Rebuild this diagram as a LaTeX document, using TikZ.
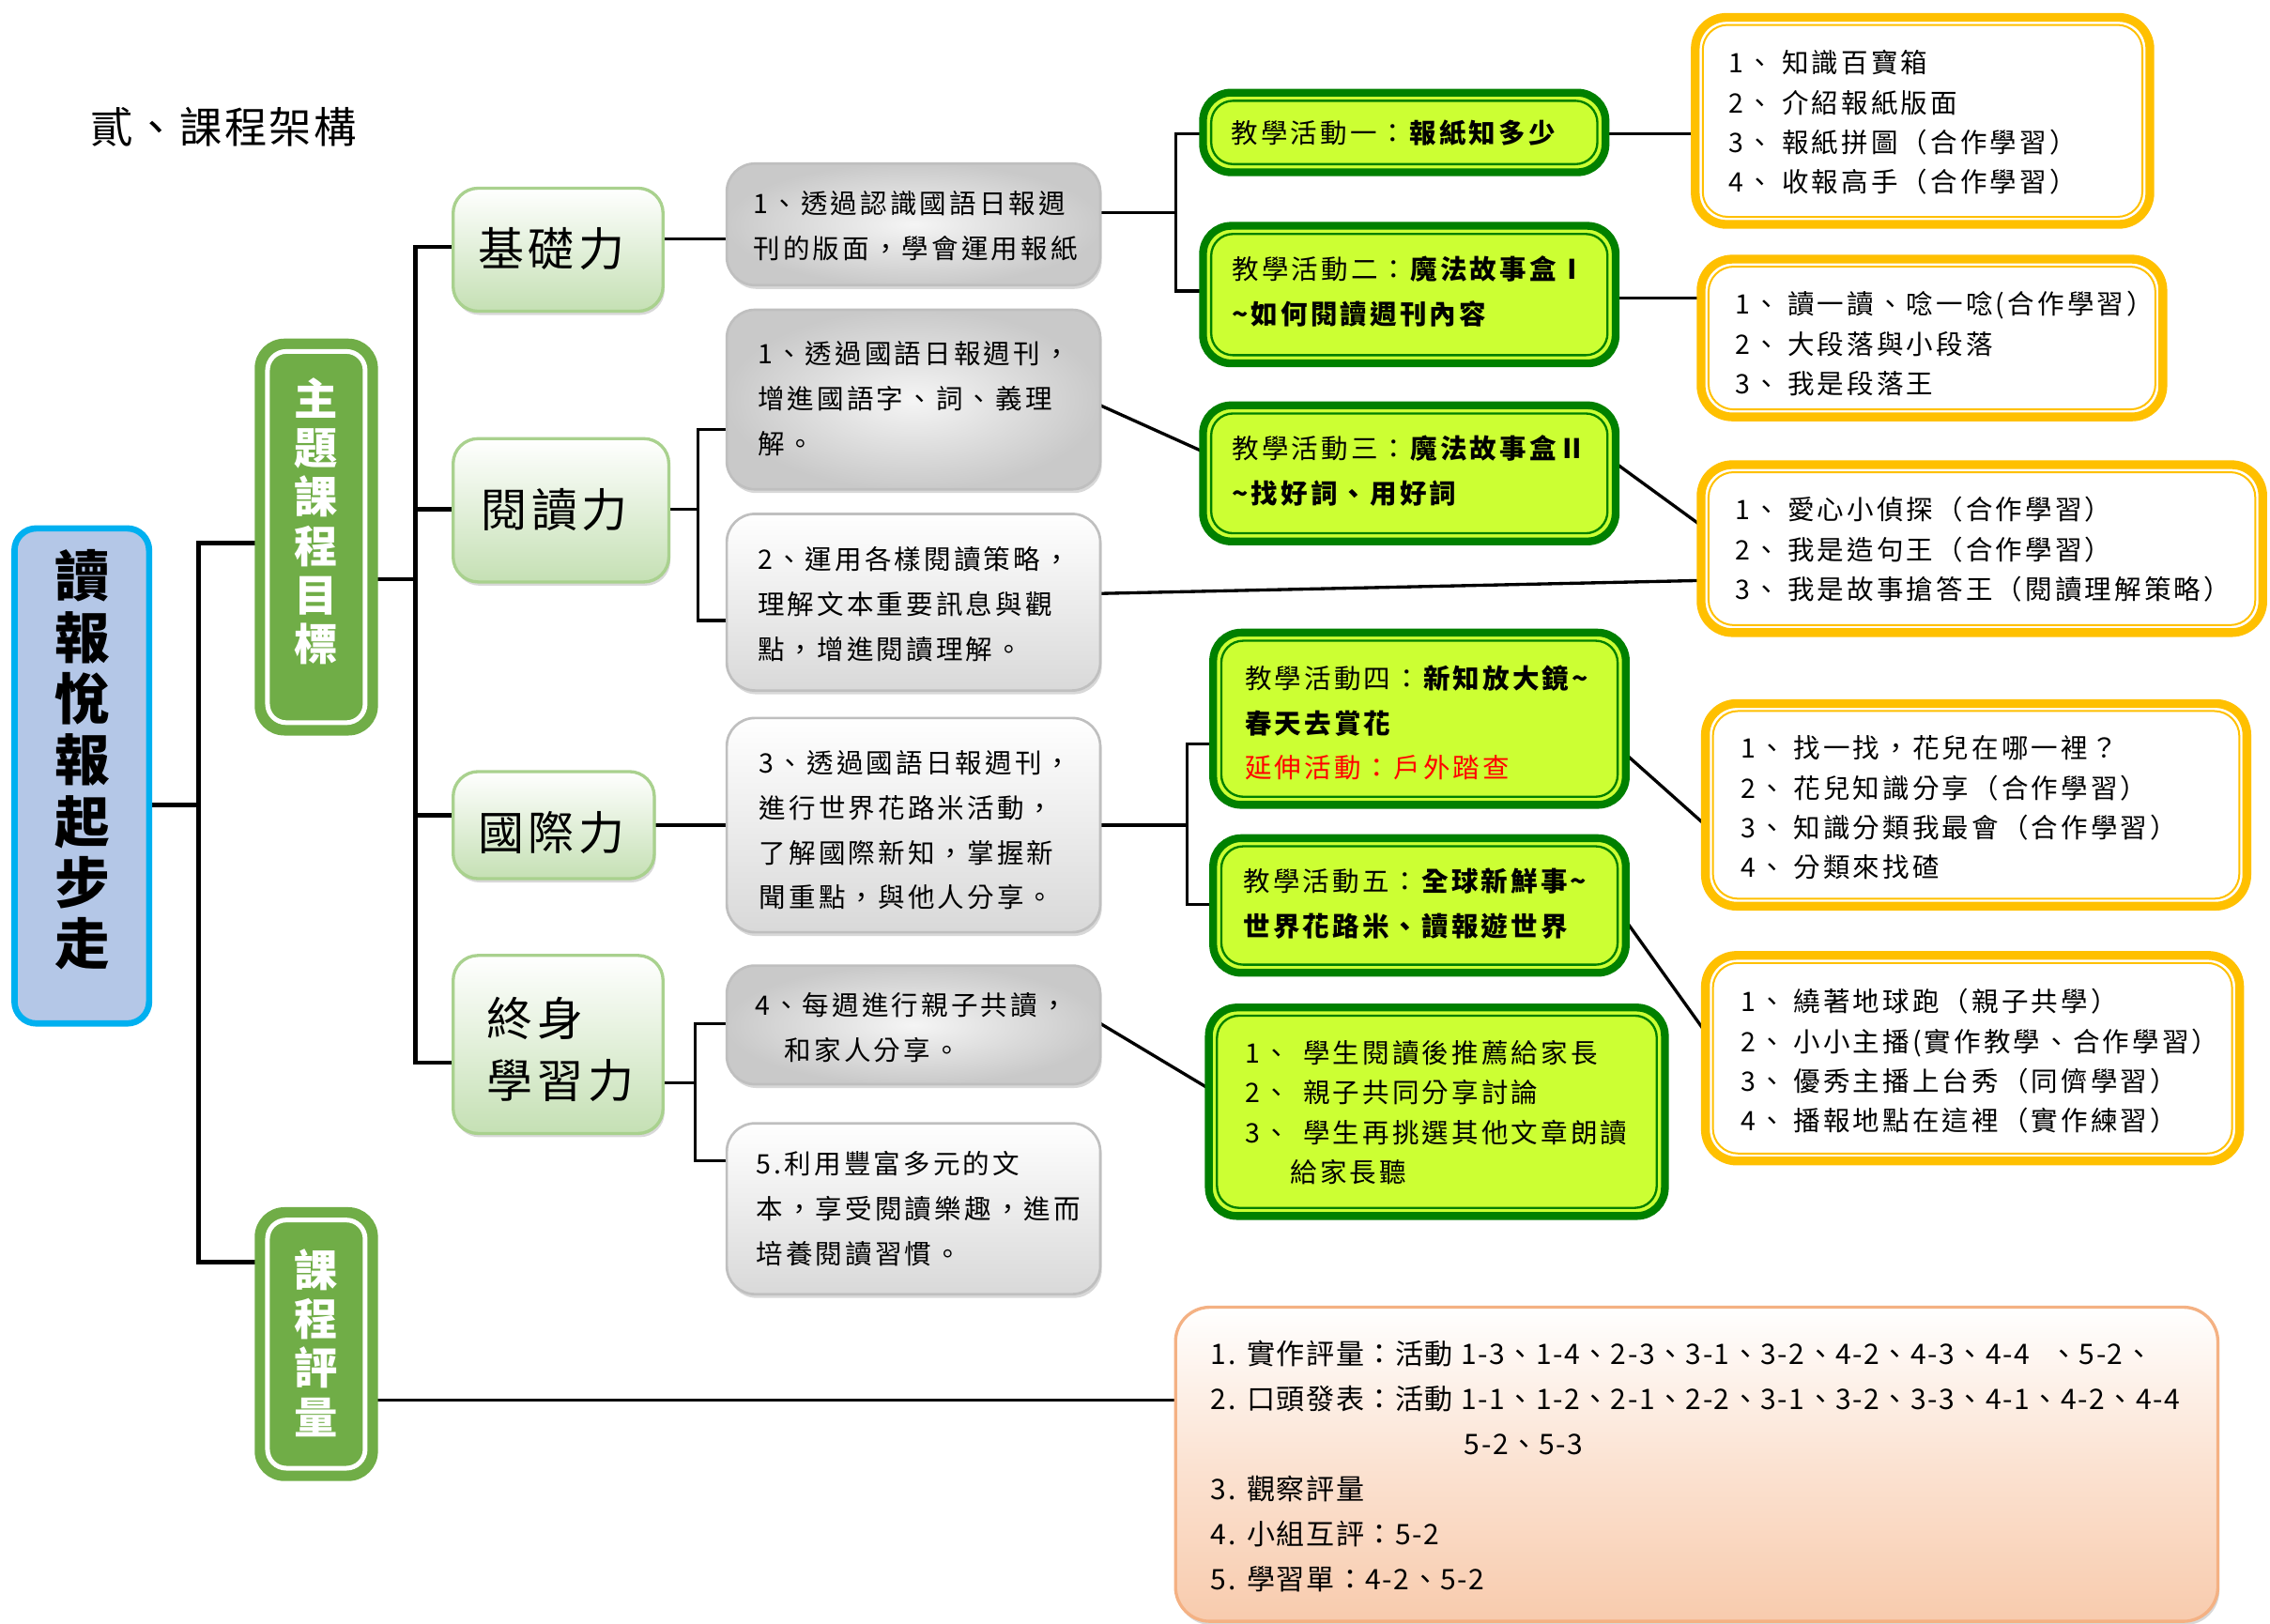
\documentclass[tikz,border=0pt]{standalone}
\usepackage{fontspec}
\setmainfont{Noto Sans CJK TC}
\newfontfamily\fls{Noto Sans CJK TC}[LetterSpace=11]
\newfontfamily\flv{Noto Sans CJK TC}[LetterSpace=10]
\newfontfamily\fev{Noto Sans CJK TC}[LetterSpace=5]
\usetikzlibrary{shadows,backgrounds}
\definecolor{rootfill}{HTML}{B4C7E7}
\definecolor{rootline}{HTML}{00B0F0}
\definecolor{goalgreen}{HTML}{70AD47}
\definecolor{lvlfill}{HTML}{C5E0B4}
\definecolor{lvlline}{HTML}{A9D18E}
\definecolor{grayline}{HTML}{BFBFBF}
\definecolor{actfill}{HTML}{CCFF33}
\definecolor{actline}{HTML}{008000}
\definecolor{orline}{HTML}{FFC000}
\definecolor{evfill}{HTML}{F8CBAD}
\definecolor{evline}{HTML}{F4B183}
\definecolor{redtxt}{HTML}{FF0000}
\newcommand\fsmall{\fls\fontsize{8.56pt}{14.34pt}\selectfont}
\newcommand\forg{\fls\fontsize{8.56pt}{12.72pt}\selectfont}
\newcommand\flvl{\flv\fontsize{14.7pt}{19.6pt}\selectfont}
\tikzset{
 bx/.style n args={4}{at={({(#1+#3)/2},{(#2+#4)/2})},minimum width={(#3-#1)*0.4626pt},minimum height={(#4-#2)*0.4626pt},inner sep=0pt,outer sep=0pt},
 bxs/.style n args={4}{at={({(#1+#3)/2},{(#2+#4)/2})},minimum width={(#3-#1-6)*0.4626pt},minimum height={(#4-#2-6)*0.4626pt},inner sep=0pt,outer sep=0pt},
 inl/.style n args={4}{path picture={\draw[draw=#1,line width=#2,rounded corners=#4]([xshift=#3,yshift=-#3]path picture bounding box.north west) rectangle ([xshift=-#3,yshift=#3]path picture bounding box.south east);}},
 shad/.style={drop shadow={shadow xshift=0.5pt,shadow yshift=-1.2pt,opacity=0.3}},
 rootbox/.style={draw=rootline,line width=2pt,fill=rootfill,rounded corners=7pt},
 goalbox/.style={draw=goalgreen,line width=1pt,fill=goalgreen,rounded corners=9pt,inl={white}{1.5pt}{3.6pt}{6pt}},
 lvlbox/.style={draw=lvlline,line width=1pt,top color=white,bottom color=lvlfill,rounded corners=8pt,shad},
 grayA/.style={draw=grayline,line width=0.8pt,inner color=gray!8,outer color=gray!42,rounded corners=9pt,shad},
 grayB/.style={draw=grayline,line width=0.8pt,top color=white,bottom color=gray!30,rounded corners=9pt,shad},
 actbox/.style={draw=actline,line width=2.5pt,fill=actfill,rounded corners=9pt,inl={actline}{0.7pt}{2.6pt}{7pt}},
 orbox/.style={draw=orline,line width=2.8pt,fill=white,rounded corners=10pt,inl={orline}{0.6pt}{2.4pt}{8pt}},
 evbox/.style={draw=evline,line width=1pt,top color=white,bottom color=evfill,middle color=evfill!55,rounded corners=11pt,shad},
 trunk/.style={line width=1.4pt,black},
 conn/.style={line width=1pt,black},
 txt/.style={inner sep=0pt,anchor=west,align=left},
}
\begin{document}
\begin{tikzpicture}[x=0.4626pt,y=-0.4626pt]
\useasboundingbox (0,0) rectangle (1568,1121.85);

% title
\node[txt,font=\fev\fontsize{13.6pt}{16pt}\selectfont] (title) at (62,88) {貳、課程架構};

% root and level-1
\node[rootbox,bx={10}{365}{103}{707}] (root) {};
\node[inner sep=0pt,align=center,font=\bfseries\fontsize{17.6pt}{19.6pt}\selectfont] (roottxt) at (57,525) {讀\\報\\悅\\報\\起\\步\\走};
\node[goalbox,bx={177}{235}{260}{507}] (goal) {};
\node[inner sep=0pt,align=center,text=white,font=\bfseries\fontsize{13.9pt}{15.7pt}\selectfont] (goaltxt) at (218.5,360) {主\\題\\課\\程\\目\\標};
\node[goalbox,bx={177}{835}{260}{1022}] (evalg) {};
\node[inner sep=0pt,align=center,text=white,font=\bfseries\fontsize{13.9pt}{15.7pt}\selectfont] (evalgtxt) at (218.5,927.5) {課\\程\\評\\量};

% level-2
\node[lvlbox,bx={313}{130}{458}{215}] (L1) {};
\node[inner sep=0pt,font=\flvl] (L1t) at (381,172) {基礎力};
\node[lvlbox,bx={313}{303}{462}{402}] (L2) {};
\node[inner sep=0pt,font=\flvl] (L2t) at (383,352) {閱讀力};
\node[lvlbox,bx={313}{533}{452}{607}] (L3) {};
\node[inner sep=0pt,font=\flvl] (L3t) at (381,575) {國際力};
\node[lvlbox,bx={313}{660}{458}{783}] (L4) {};
\node[txt,font=\flvl] (L4t) at (336,725) {終身\\學習力};

% level-3 gray
\node[grayA,bx={502}{113}{760}{197}] (B1) {};
\node[txt,font=\fsmall] (B1t) at (520,156.3) {1、透過認識國語日報週\\刊的版面，學會運用報紙};
\node[grayA,bx={502}{214}{760}{338}] (B2) {};
\node[txt,font=\fsmall] (B2t) at (523,275.5) {1、透過國語日報週刊，\\增進國語字、詞、義理\\解。};
\node[grayB,bx={502}{355}{760}{477}] (B3) {};
\node[txt,font=\fsmall] (B3t) at (523,417.5) {2、運用各樣閱讀策略，\\理解文本重要訊息與觀\\點，增進閱讀理解。};
\node[grayB,bx={502}{496}{760}{644}] (B4) {};
\node[txt,font=\fsmall] (B4t) at (524,573.5) {3、透過國語日報週刊，\\進行世界花路米活動，\\了解國際新知，掌握新\\聞重點，與他人分享。};
\node[grayA,bx={502}{667}{760}{749}] (B5) {};
\node[txt,font=\fsmall] (B5t) at (521,710) {4、每週進行親子共讀，\\\hspace*{9.5pt}和家人分享。};
\node[grayB,bx={502}{776}{760}{894}] (B6) {};
\node[txt,font=\fsmall] (B6t) at (522,835) {5.利用豐富多元的文\\本，享受閱讀樂趣，進而\\培養閱讀習慣。};

% activities
\node[actbox,bxs={828}{61}{1112}{122}] (A1) {};
\node[txt,font=\fsmall] (A1t) at (850,92) {教學活動一：\textbf{報紙知多少}};
\node[actbox,bxs={828}{153}{1119}{254}] (A2) {};
\node[txt,font=\fsmall] (A2t) at (850.6,201.5) {教學活動二：\textbf{魔法故事盒Ⅰ}\\\textbf{\textasciitilde 如何閱讀週刊內容}};
\node[actbox,bxs={828}{277}{1119}{377}] (A3) {};
\node[txt,font=\fsmall] (A3t) at (850.6,325) {教學活動三：\textbf{魔法故事盒Ⅱ}\\\textbf{\textasciitilde 找好詞、用好詞}};
\node[actbox,bxs={835}{434}{1126}{559}] (A4) {};
\node[txt,font=\fsmall] (A4t) at (859.6,499.3) {教學活動四：\textbf{新知放大鏡\textasciitilde}\\\textbf{春天去賞花}\\\textcolor{redtxt}{延伸活動：戶外踏查}};
\node[actbox,bxs={835}{576}{1126}{675}] (A5) {};
\node[txt,font=\fsmall] (A5t) at (858.5,624) {教學活動五：\textbf{全球新鮮事\textasciitilde}\\\textbf{世界花路米、讀報遊世界}};
\node[actbox,bxs={832}{693}{1153}{843}] (A6) {};
\node[txt,font=\forg] (A6t) at (859.6,768.6) {1、\hspace{0.5em}學生閱讀後推薦給家長\\2、\hspace{0.5em}親子共同分享討論\\3、\hspace{0.5em}學生再挑選其他文章朗讀\\\hspace*{14.5pt}給家長聽};

% orange lists
\node[orbox,bxs={1168}{9}{1488}{158}] (O1) {};
\node[txt,font=\forg] (O1t) at (1194,84.7) {1、\hspace{0.3em}知識百寶箱\\2、\hspace{0.3em}介紹報紙版面\\3、\hspace{0.3em}報紙拼圖（合作學習）\\4、\hspace{0.3em}收報高手（合作學習）};
\node[orbox,bxs={1172}{176}{1497}{291}] (O2) {};
\node[txt,font=\forg] (O2t) at (1198,237.5) {1、\hspace{0.3em}讀一讀、唸一唸(合作學習）\\2、\hspace{0.3em}大段落與小段落\\3、\hspace{0.3em}我是段落王};
\node[orbox,bxs={1172}{318}{1566}{440}] (O3) {};
\node[txt,font=\forg] (O3t) at (1198,379.5) {1、\hspace{0.3em}愛心小偵探（合作學習）\\2、\hspace{0.3em}我是造句王（合作學習）\\3、\hspace{0.3em}我是故事搶答王（閱讀理解策略）};
\node[orbox,bxs={1175}{483}{1555}{629}] (O4) {};
\node[txt,font=\forg] (O4t) at (1202,558) {1、\hspace{0.3em}找一找，花兒在哪一裡？\\2、\hspace{0.3em}花兒知識分享（合作學習）\\3、\hspace{0.3em}知識分類我最會（合作學習）\\4、\hspace{0.3em}分類來找碴};
\node[orbox,bxs={1175}{657}{1550}{805}] (O5) {};
\node[txt,font=\forg] (O5t) at (1202,733) {1、\hspace{0.3em}繞著地球跑（親子共學）\\2、\hspace{0.3em}小小主播(實作教學、合作學習）\\3、\hspace{0.3em}優秀主播上台秀（同儕學習）\\4、\hspace{0.3em}播報地點在這裡（實作練習）};

% evaluation
\node[evbox,bx={812}{903}{1532}{1120}] (EV) {};
\node[txt,font=\fev\fontsize{9.02pt}{14.43pt}\selectfont] (EVt) at (836,1013) {1.\hspace{0.4em}實作評量：活動 1-3、1-4、2-3、3-1、3-2、4-2、4-3、4-4\hspace{0.7em}、5-2、\\2.\hspace{0.4em}口頭發表：活動 1-1、1-2、2-1、2-2、3-1、3-2、3-3、4-1、4-2、4-4\\\hspace*{81pt}5-2、5-3\\3.\hspace{0.4em}觀察評量\\4.\hspace{0.4em}小組互評：5-2\\5.\hspace{0.4em}學習單：4-2、5-2};

% connectors
\begin{scope}[on background layer]
\fill[white] (0,0) rectangle (1568,1121.85);
\coordinate (jR) at (137,556);
\coordinate (jA) at (137,375);
\coordinate (jB) at (137,872);
\draw[trunk] (root.east |- jR) -- (jR);
\draw[trunk] (goal.west |- jA) -- (jA) -- (jB) -- (evalg.west |- jB);
\coordinate (jG) at (287,400);
\coordinate (s1) at (287,170.5);
\coordinate (s2) at (287,352);
\coordinate (s3) at (287,563);
\coordinate (s4) at (287,734);
\draw[trunk] (goal.east |- jG) -- (jG);
\draw[trunk] (L1.west |- s1) -- (s1) -- (s4) -- (L4.west |- s4);
\draw[trunk] (s2) -- (L2.west |- s2);
\draw[trunk] (s3) -- (L3.west |- s3);
\coordinate (k1) at (480,165);
\draw[conn] (L1.east |- k1) -- (B1.west |- k1);
\coordinate (k2) at (482,352);
\coordinate (k2a) at (482,296.5);
\coordinate (k2b) at (482,428.7);
\draw[conn] (L2.east |- k2) -- (k2);
\draw[conn] (B2.west |- k2a) -- (k2a) -- (k2b) -- (B3.west |- k2b);
\coordinate (k3) at (480,570);
\draw[conn] (L3.east |- k3) -- (B4.west |- k3);
\coordinate (k4) at (480,748);
\coordinate (k4a) at (480,707);
\coordinate (k4b) at (480,802);
\draw[conn] (L4.east |- k4) -- (k4);
\draw[conn] (B5.west |- k4a) -- (k4a) -- (k4b) -- (B6.west |- k4b);
\coordinate (m1) at (812,147);
\coordinate (m1a) at (812,92.5);
\coordinate (m1b) at (812,201);
\draw[conn] (B1.east |- m1) -- (m1);
\draw[conn] (A1.west |- m1a) -- (m1a) -- (m1b) -- (A2.west |- m1b);
\coordinate (m2s) at (0,280);
\coordinate (m2e) at (0,312);
\draw[conn] (B2.east |- m2s) -- (A3.west |- m2e);
\coordinate (m3s) at (0,410);
\coordinate (m3e) at (0,401);
\draw[conn] (B3.east |- m3s) -- (O3.west |- m3e);
\coordinate (m4) at (820,570);
\coordinate (m4a) at (820,514);
\coordinate (m4b) at (820,625);
\draw[conn] (B4.east |- m4) -- (m4);
\draw[conn] (A4.west |- m4a) -- (m4a) -- (m4b) -- (A5.west |- m4b);
\coordinate (m5s) at (0,707);
\coordinate (m5e) at (0,752);
\draw[conn] (B5.east |- m5s) -- (A6.west |- m5e);
\coordinate (n1) at (0,92.6);
\draw[conn] (A1.east |- n1) -- (O1.west |- n1);
\coordinate (n2) at (0,206);
\draw[conn] (A2.east |- n2) -- (O2.west |- n2);
\coordinate (n3s) at (0,320);
\coordinate (n3e) at (0,363);
\draw[conn] (A3.east |- n3s) -- (O3.west |- n3e);
\coordinate (n4s) at (0,521);
\coordinate (n4e) at (0,570);
\draw[conn] (A4.east |- n4s) -- (O4.west |- n4e);
\coordinate (n5s) at (0,636);
\coordinate (n5e) at (0,713);
\draw[conn] (A5.east |- n5s) -- (O5.west |- n5e);
\coordinate (n6) at (0,967);
\draw[conn] (evalg.east |- n6) -- (EV.west |- n6);
\end{scope}
\end{tikzpicture}
\end{document}
